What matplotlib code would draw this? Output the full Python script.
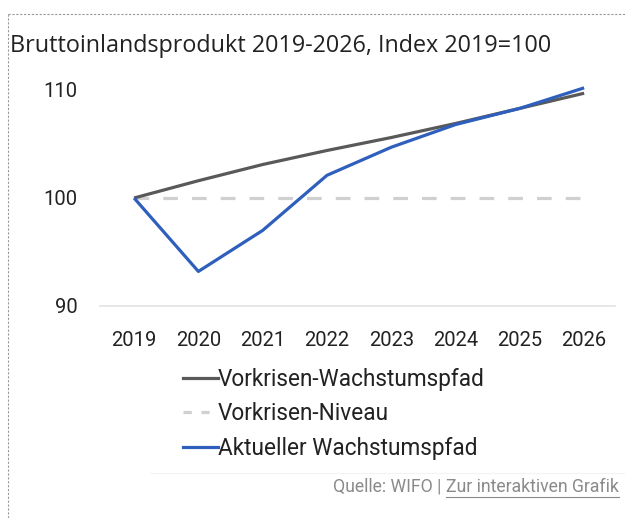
import matplotlib
matplotlib.use("Agg")
import matplotlib.pyplot as plt
from matplotlib.lines import Line2D

years = [2019, 2020, 2021, 2022, 2023, 2024, 2025, 2026]
vorkrisen_pfad = [100.0, 101.6, 103.1, 104.4, 105.6, 106.9, 108.3, 109.7]
vorkrisen_niveau = [100.0] * 8
aktueller_pfad = [100.0, 93.2, 97.0, 102.1, 104.7, 106.8, 108.3, 110.2]
yticks = [90, 100, 110]
labels = ["Vorkrisen-Wachstumspfad", "Vorkrisen-Niveau", "Aktueller Wachstumspfad"]
title = "Bruttoinlandsprodukt 2019-2026, Index 2019=100"

W, H = 625, 518
fig = plt.figure(figsize=(W / 100, H / 100), dpi=100)

def fx(px):
    return px / W

def fy(py):
    return 1 - py / H

ax = fig.add_axes([fx(100), fy(306), fx(615) - fx(100), fy(90) - fy(306)])
ax.set_xlim(2018.47, 2026.48)
ax.set_ylim(90, 110)

c_gray = "#595959"
c_dash = "#d0d0d0"
c_blue = "#2f5fbd"
lw = 2.3

ax.plot(years, vorkrisen_niveau, color=c_dash, lw=lw, dashes=(4.6, 4.4), clip_on=False, zorder=2)
ax.plot(years, vorkrisen_pfad, color=c_gray, lw=lw, clip_on=False, zorder=3, solid_capstyle="butt")
ax.plot(years, aktueller_pfad, color=c_blue, lw=lw, clip_on=False, zorder=4, solid_capstyle="butt")

for s in ["top", "right", "left"]:
    ax.spines[s].set_visible(False)
ax.spines["bottom"].set_color("#e3e3e3")
ax.spines["bottom"].set_linewidth(1.2)

tick_font = dict(family=["Roboto", "DejaVu Sans"], size=14.5, color="#222222")
ax.set_xticks(years)
ax.set_xticklabels([str(y) for y in years], **tick_font)
ax.set_yticks(yticks)
ax.set_yticklabels([str(v) for v in yticks], **tick_font)
ax.tick_params(axis="both", length=0)
ax.tick_params(axis="x", pad=18)
ax.tick_params(axis="y", pad=16)

# Title
fig.text(fx(10), fy(46), title, ha="left", va="center", fontsize=16.8,
         family=["Open Sans", "DejaVu Sans"], color="#222222")

# Dashed frame (top and left)
fig.add_artist(Line2D([fx(8), 1.0], [fy(14), fy(14)], color="#999999", lw=0.8,
                      dashes=(2, 1.5), transform=fig.transFigure))
fig.add_artist(Line2D([fx(8), fx(8)], [fy(14), 0.0], color="#999999", lw=0.8,
                      dashes=(2, 1.5), transform=fig.transFigure))

# Legend
handles = [
    Line2D([], [], color=c_gray, lw=lw),
    Line2D([], [], color=c_dash, lw=lw, dashes=(2.6, 3.0)),
    Line2D([], [], color=c_blue, lw=lw),
]
leg = fig.legend(handles, labels, loc="upper left", bbox_to_anchor=(fx(183), fy(368)),
                 frameon=False, handlelength=1.55, handletextpad=0.0,
                 labelspacing=0.5, borderaxespad=0, borderpad=0,
                 prop=dict(family=["Roboto", "DejaVu Sans"], size=16.3))
for t in leg.get_texts():
    t.set_color("#222222")

# Faint separator
fig.add_artist(Line2D([fx(150), fx(625)], [fy(473), fy(473)], color="#f3f3f3", lw=0.8,
                      transform=fig.transFigure))

# Source
src_font = dict(family=["Roboto", "DejaVu Sans"], size=12.7, color="#8a8a8a")
t2 = fig.text(fx(619), fy(487), "Zur interaktiven Grafik", ha="right", va="center", **src_font)
fig.canvas.draw()
r = fig.canvas.get_renderer()
bb = t2.get_window_extent(r)
t1 = fig.text(bb.x0 / W, fy(487), "Quelle: WIFO | ", ha="right", va="center", **src_font)
ul_y = bb.y0 - 1
fig.add_artist(Line2D([bb.x0 / W, bb.x1 / W], [ul_y / H, ul_y / H], color="#8a8a8a", lw=0.8,
                      transform=fig.transFigure))

fig.savefig("out.png", dpi=100)
